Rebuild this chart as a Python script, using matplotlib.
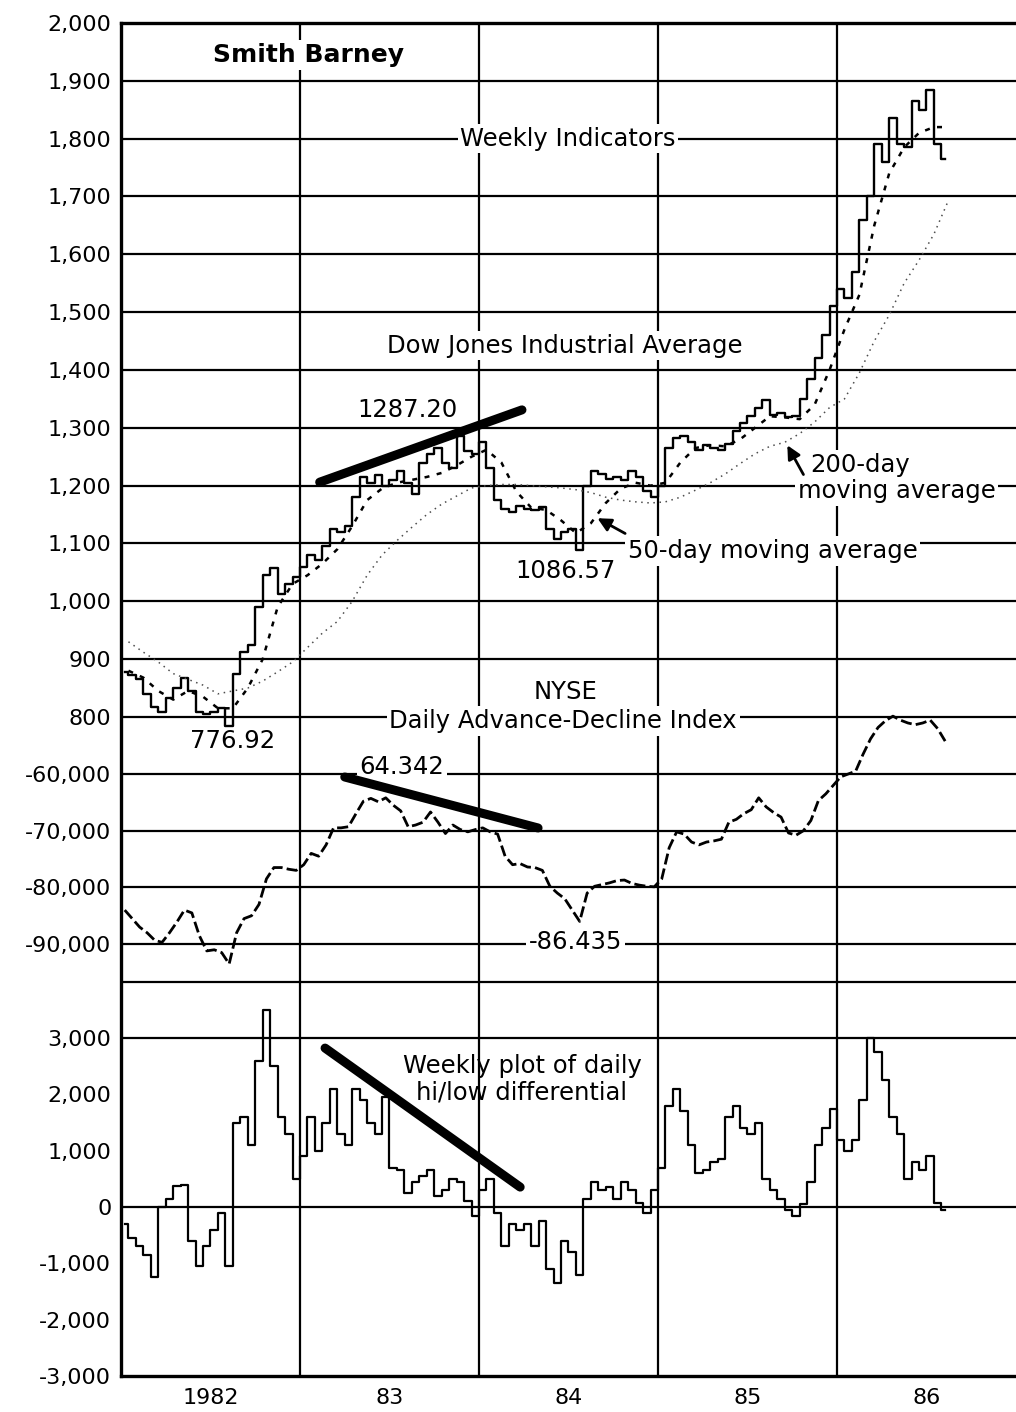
import numpy as np
import matplotlib
matplotlib.use("Agg")
from matplotlib import pyplot as plt

plt.rcParams['font.family'] = ['DejaVu Sans']

# two readings a month, Jan 1982 .. early Aug 1986
djia = [878, 872, 865, 840, 818, 808, 832, 850, 868, 845, 808, 805,
        808, 815, 785, 875, 912, 925, 990, 1045, 1058, 1012, 1030, 1042,
        1060, 1080, 1072, 1095, 1125, 1120, 1130, 1180, 1215, 1205, 1218, 1200,
        1210, 1225, 1205, 1185, 1240, 1255, 1265, 1240, 1230, 1285, 1260, 1255,
        1275, 1230, 1175, 1160, 1155, 1165, 1160, 1158, 1163, 1125, 1108, 1120,
        1125, 1088, 1200, 1225, 1220, 1212, 1215, 1210, 1225, 1215, 1190, 1180,
        1200, 1265, 1282, 1285, 1275, 1262, 1270, 1265, 1262, 1272, 1295, 1308,
        1320, 1335, 1348, 1322, 1325, 1318, 1320, 1350, 1385, 1420, 1460, 1510,
        1540, 1525, 1570, 1660, 1700, 1790, 1760, 1835, 1790, 1785, 1865, 1850,
        1885, 1790, 1765]

ad_index = [-84000, -85500, -87000, -88000, -89300, -89700, -88000, -86100, -84000, -84500, -88500, -91200,
            -91000, -91500, -93500, -88000, -85500, -85000, -83000, -78500, -76500, -76500, -76800, -77000,
            -76000, -74000, -74500, -72500, -69500, -69500, -69300, -67000, -64800, -64300, -64900, -64200,
            -65500, -66500, -69300, -69000, -68500, -66700, -68500, -70500, -69000, -69800, -70200, -69800,
            -69500, -70200, -70600, -74500, -76000, -75800, -76400, -76500, -77000, -79800, -81000, -82000,
            -84000, -86000, -81000, -79800, -79500, -79200, -78800, -78700, -79300, -79600, -79800, -79900,
            -78500, -73000, -70200, -70600, -72000, -72500, -72000, -71800, -71500, -68500, -68000, -67000,
            -66300, -64200, -65800, -66800, -67600, -70400, -70800, -70000, -68200, -64700, -63500, -62000,
            -60500, -60000, -59500, -56500, -53800, -51800, -50600, -49800, -50500, -51000, -51300, -51000,
            -50500, -52000, -54200]

hilo = [-300, -550, -700, -850, -1250, 0, 150, 380, 390, -600, -1050, -700,
        -400, -100, -1050, 1500, 1600, 1100, 2600, 3500, 2500, 1600, 1300, 500,
        900, 1600, 1000, 1500, 2100, 1300, 1100, 2100, 1900, 1500, 1300, 1950,
        700, 650, 250, 450, 550, 650, 200, 300, 500, 450, 100, -150,
        300, 500, -100, -700, -300, -400, -300, -700, -250, -1100, -1350, -600,
        -800, -1200, 150, 450, 300, 350, 150, 450, 300, 80, -100, 300,
        700, 1800, 2100, 1700, 1100, 600, 650, 800, 850, 1600, 1800, 1400,
        1300, 1500, 500, 300, 150, -50, -150, 50, 450, 1100, 1400, 1750,
        1200, 1000, 1200, 1900, 3000, 2750, 2250, 1600, 1300, 500, 800, 650,
        900, 80, -50]

# monthly readings of the moving averages
ma50 = [880, 868, 845, 830, 845, 835, 815, 815, 850, 900, 990, 1030,
        1045, 1065, 1090, 1130, 1175, 1195, 1205, 1210, 1215, 1222, 1235, 1250,
        1262, 1240, 1190, 1162, 1158, 1140, 1118, 1135, 1170, 1195, 1205, 1200,
        1205, 1240, 1265, 1270, 1268, 1280, 1300, 1320, 1318, 1315, 1340, 1400,
        1470, 1530, 1650, 1740, 1785, 1810, 1820, 1820]
ma200 = [930, 912, 895, 875, 865, 855, 840, 845, 850, 862, 878, 895,
         920, 945, 965, 1000, 1045, 1080, 1105, 1128, 1150, 1168, 1182, 1196,
         1200, 1202, 1202, 1200, 1198, 1196, 1193, 1188, 1180, 1175, 1172, 1170,
         1172, 1180, 1192, 1205, 1220, 1238, 1255, 1268, 1275, 1290, 1310, 1335,
         1350, 1395, 1450, 1495, 1550, 1590, 1635, 1695]

year_labels = ["1982", "83", "84", "85", "86"]
dj_ticks = list(range(800, 2001, 100))
ad_ticks = [-90000, -80000, -70000, -60000]
hl_ticks = list(range(-3000, 3001, 1000))

t_half = 1982 + (np.arange(len(djia)) + 0.5) / 24.
t_month = 1982 + (np.arange(len(ma50)) + 0.5) / 12.

fig = plt.figure(figsize=(10.16, 14.12), dpi=100)
ax1 = fig.add_axes([121/1016., 36/1412., 895/1016., 1353/1412.])
ax2 = ax1.twinx()
ax3 = ax1.twinx()

ax1.set_xlim(1982, 1987)
ax1.set_ylim(-339.6, 2000)
ax2.set_ylim(-166173, 72451)
ax3.set_ylim(-3000, 21030)

tfs = 16
for ax in (ax1, ax2, ax3):
    for s in ax.spines.values():
        s.set_visible(False)
    ax.yaxis.set_ticks_position('left')
    ax.tick_params(axis='y', length=0, pad=7, labelsize=tfs)
for s in ('left', 'top', 'bottom'):
    ax1.spines[s].set_visible(True)
    ax1.spines[s].set_linewidth(2.4)

ax1.set_yticks(dj_ticks)
ax1.set_yticklabels(["{:,}".format(v) for v in dj_ticks])
ax2.set_yticks(ad_ticks)
ax2.set_yticklabels(["{:,}".format(v) for v in ad_ticks])
ax3.set_yticks(hl_ticks)
ax3.set_yticklabels(["{:,}".format(v) for v in hl_ticks])

ax1.set_xticks(np.arange(1982.5, 1987, 1.0))
ax1.set_xticklabels(year_labels)
ax1.tick_params(axis='x', length=0, pad=9, labelsize=tfs)

t1 = ax1.transData
t2 = ax2.transData
t3 = ax3.transData

# grid
glw = 1.6
for v in dj_ticks[:-1]:
    ax1.axhline(v, color='k', lw=glw, zorder=1)
for v in ad_ticks:
    ax2.axhline(v, color='k', lw=glw, zorder=1)
for v in (4000, 3000, 0):
    ax3.axhline(v, color='k', lw=glw, zorder=1)
for yr in (1983, 1984, 1985, 1986):
    ax1.axvline(yr, color='k', lw=glw, zorder=1)

# series
ax1.plot(t_half, djia, color='k', lw=1.7, drawstyle='steps-mid')
ax1.plot(t_month, ma50, color='k', lw=1.8, ls=(0, (2, 3)))
ax1.plot(t_month, ma200, color='0.3', lw=1.1, ls=(0, (1, 3)))
ax2.plot(t_half, ad_index, color='k', lw=2.0, ls=(0, (4, 1.5)))
ax3.plot(t_half, hilo, color='k', lw=1.6, drawstyle='steps-mid')

# trend lines, kept above the label boxes
ax3.plot([1983.11, 1984.24], [1206, 1331], transform=t1, color='k', lw=6.5,
         solid_capstyle='round', zorder=5)
ax3.plot([1983.25, 1984.33], [-60530, -69520], transform=t2, color='k', lw=6.5,
         solid_capstyle='round', zorder=5)
ax3.plot([1983.14, 1984.23], [2824, 355], transform=t3, color='k', lw=6.5,
         solid_capstyle='round', zorder=5)

# labels, drawn on the top axes so the white boxes cover the grid
box = dict(facecolor='white', edgecolor='none', pad=2)
fs = 17.5
ax3.text(1983.045, 1945, "Smith Barney", transform=t1, ha='center', va='center',
         fontsize=18, fontweight='bold', bbox=box)
ax3.text(1984.497, 1800, "Weekly Indicators", transform=t1, ha='center', va='center',
         fontsize=fs, bbox=box)
ax3.text(1984.48, 1442, "Dow Jones Industrial Average", transform=t1, ha='center', va='center',
         fontsize=fs, bbox=box)
ax3.text(1983.6, 1331, "1287.20", transform=t1, ha='center', va='center', fontsize=fs)
ax3.text(1985.85, 1236, "200-day", transform=t1, ha='left', va='center', fontsize=fs, bbox=box)
ax3.text(1985.78, 1190, "moving average", transform=t1, ha='left', va='center',
         fontsize=fs, bbox=box)
ax3.text(1984.83, 1087, "50-day moving average", transform=t1, ha='left', va='center',
         fontsize=fs, bbox=box)
ax3.text(1984.486, 1052, "1086.57", transform=t1, ha='center', va='center', fontsize=fs)
ax3.text(1982.626, 758, "776.92", transform=t1, ha='center', va='center', fontsize=fs)
ax3.text(1984.486, 843, "NYSE", transform=t1, ha='center', va='center', fontsize=fs)
ax3.text(1984.47, 793, "Daily Advance-Decline Index", transform=t1, ha='center', va='center',
         fontsize=fs, bbox=box)
ax3.text(1983.57, -58765, "64.342", transform=t2, ha='center', va='center',
         fontsize=fs, bbox=box)
ax3.text(1984.54, -89630, "-86.435", transform=t2, ha='center', va='center',
         fontsize=fs, bbox=box)
ax3.text(1984.24, 2273, "Weekly plot of daily\nhi/low differential", transform=t3,
         ha='center', va='center', fontsize=fs, linespacing=1.1)

arrow = dict(arrowstyle='-|>', color='k', lw=2.0, mutation_scale=20)
ax3.annotate("", xy=(1985.715, 1274), xytext=(1985.82, 1215),
             xycoords=t1, textcoords=t1, arrowprops=arrow)
ax3.annotate("", xy=(1984.648, 1146), xytext=(1984.83, 1115),
             xycoords=t1, textcoords=t1, arrowprops=arrow)

fig.savefig("out.png", dpi=100, facecolor='white')
